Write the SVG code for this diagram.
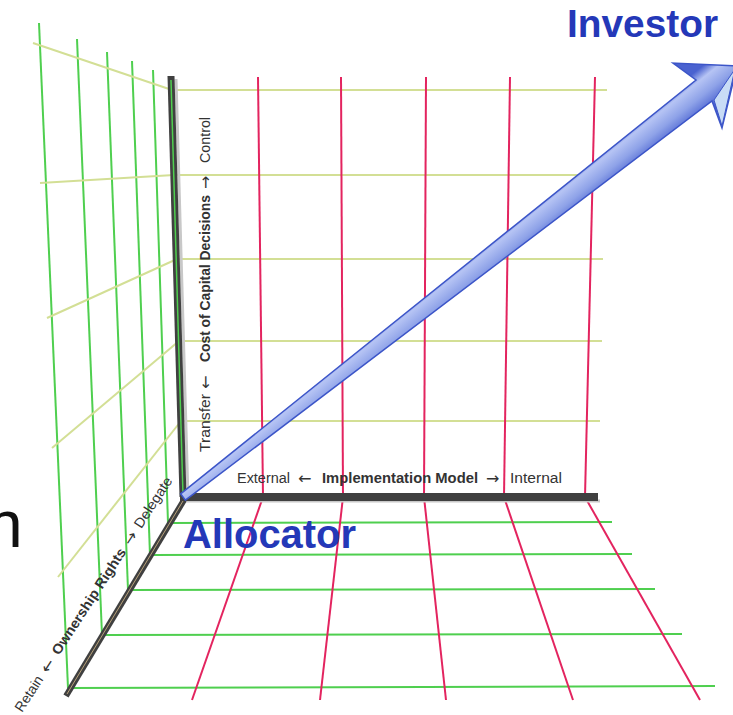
<svg xmlns="http://www.w3.org/2000/svg" width="733" height="715" viewBox="0 0 733 715">
<defs>
<style>
.g{stroke:#4fcf4f;stroke-width:2;fill:none}
.y{stroke:#d3df95;stroke-width:2;fill:none}
.r{stroke:#e3245f;stroke-width:2;fill:none}
.ax{stroke:#404040;stroke-linecap:butt;fill:none}
.sh{stroke:#c8c8c8;fill:none}
.lbl{font-family:"Liberation Sans",Arial,sans-serif;font-size:14px;fill:#333}
.b{font-weight:bold}
.arr{font-family:"DejaVu Sans",sans-serif;font-size:16px;fill:#333}
.big{font-family:"Liberation Sans",Arial,sans-serif;font-weight:bold;fill:#2438b8}
</style>
<linearGradient id="shaft" gradientUnits="userSpaceOnUse" x1="685" y1="80" x2="709" y2="110">
<stop offset="0" stop-color="#4a62d0"/>
<stop offset="0.25" stop-color="#b6c4f4"/>
<stop offset="0.6" stop-color="#8ea2e8"/>
<stop offset="1" stop-color="#4a62d0"/>
</linearGradient>
</defs>
<rect width="733" height="715" fill="#fff"/>

<g id="left-wall">
<line class="g" x1="39" y1="23" x2="68" y2="688"/>
<line class="g" x1="77" y1="39" x2="102" y2="635"/>
<line class="g" x1="107" y1="52" x2="128" y2="590"/>
<line class="g" x1="132" y1="61" x2="150" y2="555"/>
<line class="g" x1="153" y1="70" x2="168" y2="523"/>
<line class="y" x1="33" y1="43" x2="172" y2="90"/>
<line class="y" x1="40" y1="183" x2="174" y2="175"/>
<line class="y" x1="47" y1="318" x2="177" y2="259"/>
<line class="y" x1="52" y1="448" x2="179" y2="341"/>
<line class="y" x1="58" y1="577" x2="181" y2="421"/>
</g>

<g id="back-wall">
<line class="y" x1="172" y1="90" x2="607" y2="90"/>
<line class="y" x1="174" y1="175" x2="605" y2="175"/>
<line class="y" x1="177" y1="259" x2="603" y2="259"/>
<line class="y" x1="179" y1="341" x2="602" y2="341"/>
<line class="y" x1="181" y1="421" x2="600" y2="421"/>
<line class="r" x1="258" y1="77" x2="263" y2="497"/>
<line class="r" x1="341" y1="77" x2="343" y2="497"/>
<line class="r" x1="426" y1="77" x2="424" y2="497"/>
<line class="r" x1="510" y1="77" x2="504" y2="497"/>
<line class="r" x1="595" y1="77" x2="585" y2="497"/>
</g>

<g id="floor">
<line class="g" x1="168" y1="523" x2="612" y2="522"/>
<line class="g" x1="150" y1="555" x2="632" y2="554"/>
<line class="g" x1="128" y1="590" x2="655" y2="589"/>
<line class="g" x1="102" y1="635" x2="682" y2="634"/>
<line class="g" x1="68" y1="688" x2="715" y2="686"/>
<line class="r" x1="263" y1="497" x2="192" y2="700"/>
<line class="r" x1="343" y1="497" x2="320" y2="700"/>
<line class="r" x1="424" y1="497" x2="446" y2="700"/>
<line class="r" x1="504" y1="497" x2="573" y2="700"/>
<line class="r" x1="585" y1="497" x2="700" y2="700"/>
</g>

<g id="axes">
<line class="sh" x1="176" y1="79" x2="188" y2="499" stroke-width="3"/>
<line class="sh" x1="182" y1="501" x2="600" y2="501" stroke-width="3"/>
<line class="ax" x1="171" y1="76" x2="183" y2="497" stroke-width="7"/>
<line x1="171" y1="80" x2="183" y2="495" stroke="#4fcf4f" stroke-width="1.5"/>
<line class="ax" x1="180" y1="497" x2="598" y2="497" stroke-width="8"/>
<line class="ax" x1="184" y1="500" x2="66" y2="696" stroke-width="6"/>
<line x1="183" y1="501" x2="67" y2="694" stroke="#b9a27a" stroke-width="1"/>
</g>

<g id="arrow">
<polygon points="180.6,493.8 696,80 673,63 737,66 722,128 712,101 185.4,500.2" fill="url(#shaft)" stroke="#3c55c8" stroke-width="1.5" stroke-linejoin="miter"/>
<polygon points="714,100 735,69 722,126" fill="#c8dcf6" stroke="#3c55c8" stroke-width="1"/>
</g>

<g id="label-implementation">
<text class="lbl" x="237" y="483" textLength="53" lengthAdjust="spacingAndGlyphs">External</text>
<text class="arr" x="298" y="484">←</text>
<text class="lbl b" x="322" y="483" textLength="156" lengthAdjust="spacingAndGlyphs">Implementation Model</text>
<text class="arr" x="486" y="484">→</text>
<text class="lbl" x="510" y="483" textLength="52" lengthAdjust="spacingAndGlyphs">Internal</text>
</g>

<g id="label-cost" transform="translate(210,0) rotate(-90)">
<text class="lbl" x="-452" y="0" textLength="58" lengthAdjust="spacingAndGlyphs">Transfer</text>
<text class="arr" x="-389" y="1">←</text>
<text class="lbl b" x="-362" y="0" textLength="167" lengthAdjust="spacingAndGlyphs">Cost of Capital Decisions</text>
<text class="arr" x="-189" y="1">→</text>
<text class="lbl" x="-163" y="0" textLength="46" lengthAdjust="spacingAndGlyphs">Control</text>
</g>

<g id="label-ownership" transform="translate(22,713) rotate(-57)">
<text class="lbl" x="0" y="0" textLength="40" lengthAdjust="spacingAndGlyphs">Retain</text>
<text class="arr" x="47" y="1">←</text>
<text class="lbl b" x="68" y="0" textLength="124" lengthAdjust="spacingAndGlyphs">Ownership Rights</text>
<text class="arr" x="199" y="1">→</text>
<text class="lbl" x="219" y="0" textLength="58" lengthAdjust="spacingAndGlyphs">Delegate</text>
</g>

<g id="investor"><text class="big" x="567" y="37" font-size="38" textLength="151" lengthAdjust="spacingAndGlyphs">Investor</text></g>
<g id="allocator"><text class="big" x="183" y="548" font-size="40" textLength="173" lengthAdjust="spacingAndGlyphs">Allocator</text></g>
<g id="n-letter"><text x="-14" y="547" font-family="Liberation Sans,Arial,sans-serif" font-size="66" fill="#111">n</text></g>
</svg>
